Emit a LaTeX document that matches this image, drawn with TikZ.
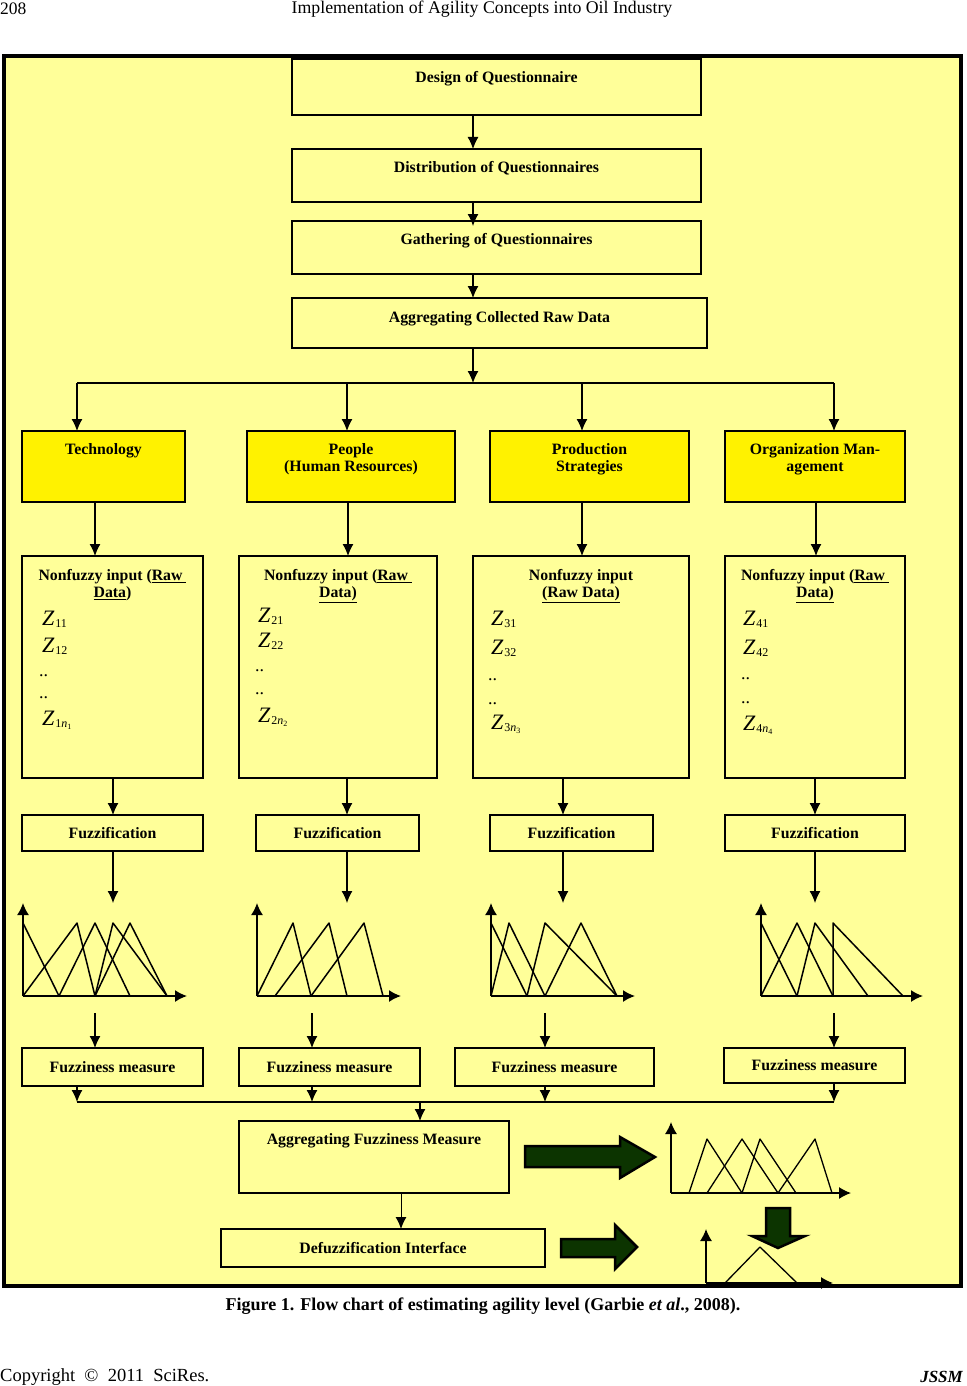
\documentclass[tikz,border=0pt]{standalone}
\usepackage{fontspec}
\setmainfont{Liberation Serif}
\usetikzlibrary{arrows.meta,positioning}
\definecolor{paleyellow}{RGB}{255,255,153}
\definecolor{darkgreen}{RGB}{12,52,0}
\newcommand{\flowfont}{\fontsize{15.8}{17.5}\selectfont\bfseries}
\newcommand{\zvar}[1]{{\fontsize{22}{22}\selectfont\itshape Z}\kern1pt\raisebox{-2pt}{\fontsize{12}{12}\selectfont #1}}
\newcommand{\nsub}[1]{\textit{n}\raisebox{-2pt}{\fontsize{8}{8}\selectfont #1}}
\newcommand{\twodots}{{\fontsize{18}{18}\selectfont ..}}
\tikzset{
  box/.style={draw, rectangle, line width=2.2pt, inner sep=0pt, outer sep=0pt, anchor=north west, font=\flowfont, align=center},
  thin box/.style={box, line width=1.2pt},
  hot/.style={fill=yellow},
  lbl/.style={font=\flowfont, align=center, inner sep=0pt},
  zval/.style={anchor=base west, inner sep=0pt},
  link/.style={-{Latex[length=12pt,width=11pt]}, line width=1.2pt},
  bus/.style={line width=2.8pt},
  axis/.style={-{Latex[length=12pt,width=12pt]}, line width=1.6pt},
  mf/.style={line width=1.5pt, line join=round},
  fat arrow/.style={draw=black, line width=2.5pt, fill=darkgreen, line join=miter}
}

\begin{document}
\begin{tikzpicture}[x=1pt, y=-1pt]
  \useasboundingbox (0,0) rectangle (966,1386);
  \fill[white] (0,0) rectangle (966,1386);

  % running head
  \node (pageno) [anchor=west, inner sep=0pt, font=\fontsize{17.5}{17.5}\selectfont] at (0,9) {208};
  \node (runhead) [inner sep=0pt, font=\fontsize{17.8}{17.8}\selectfont] at (482,9) {Implementation of Agility Concepts into Oil Industry};

  % frame
  \draw[line width=4pt, fill=paleyellow] (4,56) rectangle (961,1286);

  % questionnaire chain
  \node (design) [box, minimum width=409pt, minimum height=56pt] at (292,59) {};
  \node (distrib) [box, minimum width=409pt, minimum height=53pt] at (292,149) {};
  \node (gather) [box, minimum width=409pt, minimum height=53pt] at (292,221) {};
  \node (rawdata) [thin box, minimum width=415pt, minimum height=50pt] at (292,298) {};
  \node (designT) [lbl, below=12pt of design.north] {Design of Questionnaire};
  \node (distribT) [lbl, below=12pt of distrib.north] {Distribution of Questionnaires};
  \node (gatherT) [lbl, below=12pt of gather.north] {Gathering of Questionnaires};
  \node (rawdataT) [lbl, below=13pt of rawdata.north] {Aggregating Collected Raw Data};

  % agility dimensions
  \node (tech) [box, hot, line width=2.5pt, minimum width=163pt, minimum height=71pt] at (22,431) {};
  \node (people) [box, hot, line width=2.5pt, minimum width=208pt, minimum height=71pt] at (247,431) {};
  \node (prod) [box, hot, line width=2.5pt, minimum width=199pt, minimum height=71pt] at (490,431) {};
  \node (org) [box, hot, line width=2.5pt, minimum width=180pt, minimum height=71pt] at (725,431) {};
  \node (techT) [lbl, below=12pt of tech.north] {Technology};
  \node (peopleT) [lbl, below=12pt of people.north] {People\\(Human Resources)};
  \node (prodT) [lbl, below=12pt of prod.north] {Production\\Strategies};
  \node (orgT) [lbl, below=12pt of org.north] {Organization Man-\\agement};

  % nonfuzzy inputs
  \node (nf1) [box, minimum width=181pt, minimum height=222pt] at (22,556) {};
  \node (nf2) [box, minimum width=198pt, minimum height=222pt] at (239,556) {};
  \node (nf3) [box, minimum width=216pt, minimum height=222pt] at (473,556) {};
  \node (nf4) [box, minimum width=180pt, minimum height=222pt] at (725,556) {};
  \node (nf1T) [lbl, below=13pt of nf1.north] {Nonfuzzy input (\underline{Raw\ }\\\underline{Data})};
  \node (nf2T) [lbl, below=13pt of nf2.north] {Nonfuzzy input (\underline{Raw\ }\\\underline{Data)}};
  \node (nf3T) [lbl, below=13pt of nf3.north] {Nonfuzzy input\\\underline{(Raw Data)}};
  \node (nf4T) [lbl, below=13pt of nf4.north] {Nonfuzzy input (\underline{Raw\ }\\\underline{Data)}};

  \node (z11) [zval] at (42,625) {\zvar{11}};
  \node (z12) [zval] at (42,652) {\zvar{12}};
  \node (d1a) [zval] at (39,676) {\twodots};
  \node (d1b) [zval] at (39,698) {\twodots};
  \node (z1n) [zval] at (42,725) {\zvar{1\nsub{1}}};

  \node (z21) [zval] at (258,622) {\zvar{21}};
  \node (z22) [zval] at (258,647) {\zvar{22}};
  \node (d2a) [zval] at (255,671) {\twodots};
  \node (d2b) [zval] at (255,694) {\twodots};
  \node (z2n) [zval] at (258,722) {\zvar{2\nsub{2}}};

  \node (z31) [zval] at (491,625) {\zvar{31}};
  \node (z32) [zval] at (491,654) {\zvar{32}};
  \node (d3a) [zval] at (488,680) {\twodots};
  \node (d3b) [zval] at (488,704) {\twodots};
  \node (z3n) [zval] at (491,729) {\zvar{3\nsub{3}}};

  \node (z41) [zval] at (743,625) {\zvar{41}};
  \node (z42) [zval] at (743,654) {\zvar{42}};
  \node (d4a) [zval] at (741,679) {\twodots};
  \node (d4b) [zval] at (741,703) {\twodots};
  \node (z4n) [zval] at (743,730) {\zvar{4\nsub{4}}};

  % fuzzification
  \node (fz1) [box, minimum width=181pt, minimum height=36pt] at (22,815) {Fuzzification};
  \node (fz2) [box, minimum width=163pt, minimum height=36pt] at (256,815) {Fuzzification};
  \node (fz3) [box, minimum width=163pt, minimum height=36pt] at (490,815) {Fuzzification};
  \node (fz4) [box, minimum width=180pt, minimum height=36pt] at (725,815) {Fuzzification};

  % fuzziness measures
  \node (fm1) [box, minimum width=181pt, minimum height=38pt] at (22,1048) {Fuzziness measure};
  \node (fm2) [box, minimum width=181pt, minimum height=38pt] at (239,1048) {Fuzziness measure};
  \node (fm3) [box, minimum width=199pt, minimum height=38pt] at (455,1048) {Fuzziness measure};
  \node (fm4) [thin box, minimum width=181pt, minimum height=35pt] at (724,1048) {Fuzziness measure};

  % aggregation and defuzzification
  \node (aggfuzz) [box, minimum width=270pt, minimum height=72pt] at (239,1121) {};
  \node (aggfuzzT) [lbl, below=12pt of aggfuzz.north] {Aggregating Fuzziness Measure};
  \node (defuzz) [box, line width=1.6pt, minimum width=324pt, minimum height=38pt] at (221,1229) {Defuzzification Interface};

  % connectors: questionnaire chain
  \coordinate (spine) at (473,0);
  \draw[link] (design.south -| spine) -- (distrib.north -| spine);
  \draw[link, shorten >=-5pt] (distrib.south -| spine) -- (gather.north -| spine);
  \draw[link] (gather.south -| spine) -- (rawdata.north -| spine);
  \coordinate (fork) at (473,383);
  \coordinate (forkL) at (77,383);
  \coordinate (fork2) at (347,383);
  \coordinate (fork3) at (582,383);
  \coordinate (forkR) at (834,383);
  \draw[link] (rawdata.south -| spine) -- (fork);
  \draw[line width=1.2pt] (forkL) -- (forkR);
  \draw[link] (forkL) -- (tech.north -| forkL);
  \draw[link] (fork2) -- (people.north -| fork2);
  \draw[link] (fork3) -- (prod.north -| fork3);
  \draw[link] (forkR) -- (org.north -| forkR);

  % connectors: dimensions to inputs
  \coordinate (u1) at (95,0);
  \coordinate (u2) at (348,0);
  \coordinate (u3) at (582,0);
  \coordinate (u4) at (816,0);
  \draw[link] (tech.south -| u1) -- (nf1.north -| u1);
  \draw[link] (people.south -| u2) -- (nf2.north -| u2);
  \draw[link] (prod.south -| u3) -- (nf3.north -| u3);
  \draw[link] (org.south -| u4) -- (nf4.north -| u4);

  % connectors: inputs to fuzzification
  \coordinate (v1) at (113,0);
  \coordinate (v2) at (347,0);
  \coordinate (v3) at (563,0);
  \coordinate (v4) at (815,0);
  \draw[link] (nf1.south -| v1) -- (fz1.north -| v1);
  \draw[link] (nf2.south -| v2) -- (fz2.north -| v2);
  \draw[link] (nf3.south -| v3) -- (fz3.north -| v3);
  \draw[link] (nf4.south -| v4) -- (fz4.north -| v4);

  % connectors: fuzzification to membership plots
  \coordinate (t1) at (113,903);
  \coordinate (t2) at (347,903);
  \coordinate (t3) at (563,903);
  \coordinate (t4) at (815,903);
  \draw[link] (fz1.south -| t1) -- (t1);
  \draw[link] (fz2.south -| t2) -- (t2);
  \draw[link] (fz3.south -| t3) -- (t3);
  \draw[link] (fz4.south -| t4) -- (t4);

  % membership plot 1
  \draw[axis] (23,996) -- (23,903);
  \draw[axis] (23,996) -- (187,996);
  \draw[mf] (23,923) -- (59,996);
  \draw[mf] (23,996) -- (77,923) -- (95,996);
  \draw[mf] (59,996) -- (95,923) -- (130,996);
  \draw[mf] (95,996) -- (113,923) -- (167,996);
  \draw[mf] (95,996) -- (130,923) -- (167,996);

  % membership plot 2
  \draw[axis] (257,996) -- (257,903);
  \draw[axis] (257,996) -- (401,996);
  \draw[mf] (257,996) -- (293,923) -- (311,996);
  \draw[mf] (275,996) -- (329,923) -- (347,996);
  \draw[mf] (311,996) -- (364,923) -- (383,996);

  % membership plot 3
  \draw[axis] (491,996) -- (491,903);
  \draw[axis] (491,996) -- (635,996);
  \draw[mf] (491,923) -- (527,996);
  \draw[mf] (491,996) -- (509,923) -- (545,996);
  \draw[mf] (527,996) -- (545,923) -- (617,996);
  \draw[mf] (545,996) -- (581,923) -- (617,996);

  % membership plot 4
  \draw[axis] (761,996) -- (761,903);
  \draw[axis] (761,996) -- (923,996);
  \draw[mf] (761,923) -- (797,996);
  \draw[mf] (761,996) -- (797,923) -- (833,996);
  \draw[mf] (797,996) -- (815,923) -- (868,996);
  \draw[mf] (833,996) -- (833,923) -- (903,996);

  % connectors: plots to fuzziness measures
  \coordinate (s1) at (95,1013);
  \coordinate (s2) at (312,1013);
  \coordinate (s3) at (545,1013);
  \coordinate (s4) at (834,1013);
  \draw[link] (s1) -- (fm1.north -| s1);
  \draw[link] (s2) -- (fm2.north -| s2);
  \draw[link] (s3) -- (fm3.north -| s3);
  \draw[link] (s4) -- (fm4.north -| s4);

  % connectors: collecting bus
  \coordinate (busL) at (77,1102);
  \coordinate (bus2) at (312,1102);
  \coordinate (bus3) at (545,1102);
  \coordinate (busR) at (834,1102);
  \coordinate (busM) at (420,1102);
  \draw[bus] (busL) -- (busR);
  \draw[link] (fm1.south -| busL) -- (busL);
  \draw[link] (fm2.south -| bus2) -- (bus2);
  \draw[link] (fm3.south -| bus3) -- (bus3);
  \draw[link] (fm4.south -| busR) -- (busR);
  \draw[link] (busM) -- (aggfuzz.north -| busM);
  \coordinate (dz) at (401,0);
  \draw[link, line width=1pt] (aggfuzz.south -| dz) -- (defuzz.north -| dz);

  % aggregated membership plot
  \draw[axis, line width=1.3pt] (671,1193) -- (671,1122);
  \draw[axis, line width=1.3pt] (671,1193) -- (851,1193);
  \draw[mf, line width=1.3pt] (689,1193) -- (707,1139) -- (742,1193);
  \draw[mf, line width=1.3pt] (707,1193) -- (742,1139) -- (778,1193);
  \draw[mf, line width=1.3pt] (742,1193) -- (760,1139) -- (796,1193);
  \draw[mf, line width=1.3pt] (778,1193) -- (815,1139) -- (832,1193);

  % defuzzified plot
  \draw[axis, line width=1.3pt] (706,1283) -- (706,1229);
  \draw[axis, line width=1.3pt] (706,1283) -- (833,1283);
  \draw[mf, line width=1.3pt] (725,1283) -- (760,1247) -- (797,1283);

  % big arrows
  \draw[fat arrow] (525,1146) -- (620,1146) -- (620,1137) -- (655,1157) -- (620,1178) -- (620,1167) -- (525,1167) -- cycle;
  \draw[fat arrow] (561,1239) -- (615,1239) -- (615,1225) -- (637,1247) -- (615,1269) -- (615,1257) -- (561,1257) -- cycle;
  \draw[fat arrow] (766,1208) -- (790,1208) -- (790,1236) -- (805,1236) -- (778,1248) -- (752,1236) -- (766,1236) -- cycle;

  % caption and footer
  \node (caption) [inner sep=0pt, font=\fontsize{18}{18}\selectfont\bfseries] at (483,1306) {Figure 1. Flow chart of estimating agility level (Garbie \textit{et al}., 2008).};
  \node (copyright) [anchor=west, inner sep=0pt, font=\fontsize{18.5}{18.5}\selectfont] at (0,1377) {Copyright~~©~~2011~~SciRes.};
  \node (journal) [anchor=east, inner sep=0pt, font=\fontsize{17}{17}\selectfont\bfseries\itshape] at (963,1377) {JSSM};
\end{tikzpicture}
\end{document}
